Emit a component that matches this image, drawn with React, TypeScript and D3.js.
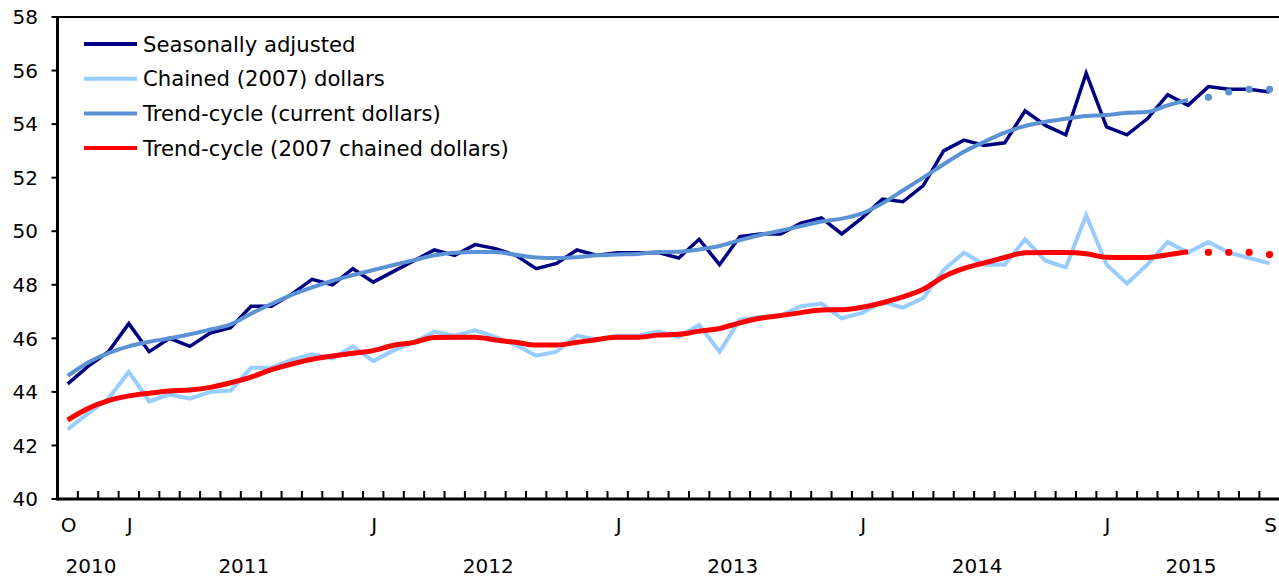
import React from "react";
import * as d3 from "d3";

// monthly, Oct 2010 .. Sep 2015
const months = d3.timeMonth.range(new Date(2010, 9, 1), new Date(2015, 9, 1));

const seasonallyAdjusted = [
  44.3, 44.95, 45.5, 46.55, 45.5, 46.0, 45.7, 46.2, 46.4, 47.2,
  47.2, 47.65, 48.2, 48.0, 48.6, 48.1, 48.5, 48.9, 49.3, 49.1,
  49.5, 49.35, 49.1, 48.6, 48.8, 49.3, 49.1, 49.2, 49.2, 49.2,
  49.0, 49.7, 48.75, 49.8, 49.9, 49.9, 50.3, 50.5, 49.9, 50.5,
  51.2, 51.1, 51.7, 53.0, 53.4, 53.2, 53.3, 54.5, 53.95, 53.6,
  55.9, 53.9, 53.6, 54.2, 55.1, 54.7, 55.4, 55.3, 55.3, 55.2,
];

const chained2007 = [
  42.6, 43.2, 43.75, 44.75, 43.65, 43.9, 43.75, 44.0, 44.05, 44.9,
  44.9, 45.2, 45.4, 45.25, 45.7, 45.15, 45.55, 45.85, 46.25, 46.1,
  46.3, 46.05, 45.75, 45.35, 45.5, 46.1, 45.95, 46.1, 46.1, 46.25,
  46.05, 46.5, 45.5, 46.7, 46.8, 46.85, 47.2, 47.3, 46.75, 46.95,
  47.35, 47.15, 47.5, 48.55, 49.2, 48.75, 48.75, 49.7, 48.9, 48.65,
  50.6, 48.75, 48.05, 48.75, 49.6, 49.2, 49.6, 49.2, 49.0, 48.8,
];

const trendCurrent = [
  44.6, 45.1, 45.45, 45.7, 45.87, 46.0, 46.15, 46.33, 46.52, 46.92,
  47.28, 47.62, 47.9, 48.15, 48.36, 48.55, 48.74, 48.92, 49.1, 49.2,
  49.22, 49.22, 49.12, 49.02, 49.0, 49.03, 49.1, 49.13, 49.15, 49.22,
  49.23, 49.32, 49.45, 49.67, 49.86, 50.02, 50.19, 50.36, 50.47, 50.67,
  51.04, 51.52, 52.0, 52.5, 52.97, 53.34, 53.68, 53.93, 54.09, 54.2,
  54.3, 54.34, 54.42, 54.45, 54.7, 54.9, 55.0, 55.2, 55.3, 55.3,
];

const trendChained = [
  42.95, 43.38, 43.67, 43.85, 43.95, 44.03, 44.07, 44.17, 44.34, 44.55,
  44.83, 45.04, 45.22, 45.34, 45.44, 45.54, 45.74, 45.85, 46.03, 46.04,
  46.04, 45.94, 45.85, 45.75, 45.75, 45.85, 45.96, 46.04, 46.04, 46.12,
  46.15, 46.27, 46.37, 46.58, 46.75, 46.85, 46.96, 47.06, 47.07, 47.16,
  47.33, 47.55, 47.83, 48.3, 48.61, 48.82, 49.02, 49.2, 49.21, 49.21,
  49.16, 49.03, 49.02, 49.02, 49.12, 49.23, 49.21, 49.21, 49.21, 49.13,
];

// last month with a final trend estimate; later months are drawn as dots
const lastTrendIndex = 55;

const yTicks = [40, 42, 44, 46, 48, 50, 52, 54, 56, 58];
const monthLabels = [
  { index: 0, label: "O" },
  { index: 3, label: "J" },
  { index: 15, label: "J" },
  { index: 27, label: "J" },
  { index: 39, label: "J" },
  { index: 51, label: "J" },
  { index: 59, label: "S" },
];
const yearLabels = [
  { year: "2010", from: 0, to: 2 },
  { year: "2011", from: 3, to: 14 },
  { year: "2012", from: 15, to: 26 },
  { year: "2013", from: 27, to: 38 },
  { year: "2014", from: 39, to: 50 },
  { year: "2015", from: 51, to: 59 },
];

const series = [
  { name: "Seasonally adjusted", values: seasonallyAdjusted, color: "#000080", width: 3.5, trend: false },
  { name: "Chained (2007) dollars", values: chained2007, color: "#99ccff", width: 4, trend: false },
  { name: "Trend-cycle (current dollars)", values: trendCurrent, color: "#5b92d6", width: 4, trend: true },
  { name: "Trend-cycle (2007 chained dollars)", values: trendChained, color: "#ff0000", width: 5, trend: true },
];

const W = 1279;
const H = 578;
const font = "'DejaVu Sans', Verdana, sans-serif";

export default function App() {
  const x = d3
    .scaleBand<number>()
    .domain(months.map((_, i) => i))
    .range([57.5, 1279.7])
    .paddingInner(0);
  const cx = (i: number) => (x(i) as number) + x.bandwidth() / 2;
  const y = d3.scaleLinear().domain([40, 58]).range([499, 17]);

  const line = (trend: boolean) =>
    d3
      .line<number>()
      .x((_, i) => cx(i))
      .y((d) => y(d))
      .curve(trend ? d3.curveMonotoneX : d3.curveLinear);

  const [x0, x1] = x.range();

  return (
    <svg width={W} height={H} style={{ position: "absolute", left: 0, top: 0, background: "#fff" }}>
      {/* lines */}
      {series.map((s) => {
        const solid = s.trend ? s.values.slice(0, lastTrendIndex + 1) : s.values;
        return (
          <g key={s.name}>
            <path d={line(s.trend)(solid) || ""} fill="none" stroke={s.color} strokeWidth={s.width} strokeLinejoin="miter" />
            {s.trend &&
              s.values.slice(lastTrendIndex + 1).map((v, k) => (
                <circle key={k} cx={cx(lastTrendIndex + 1 + k)} cy={y(v)} r={3.6} fill={s.color} />
              ))}
          </g>
        );
      })}

      {/* frame */}
      <line x1={x0} x2={W} y1={y(58)} y2={y(58)} stroke="#000" strokeWidth={2} />
      <line x1={x0} x2={x0} y1={y(58) - 1} y2={y(40) + 1.5} stroke="#000" strokeWidth={3} />
      <line x1={x0} x2={W} y1={y(40)} y2={y(40)} stroke="#000" strokeWidth={3} />

      {/* y axis */}
      {yTicks.map((t) => (
        <g key={t}>
          <line x1={x0 - 6} x2={x0} y1={y(t)} y2={y(t)} stroke="#000" strokeWidth={2} />
          <text x={38} y={y(t)} dy="0.36em" textAnchor="end" fontFamily={font} fontSize={20} fill="#000">
            {t}
          </text>
        </g>
      ))}

      {/* x ticks on month boundaries */}
      {months.slice(1).map((_, k) => {
        const bx = x(k + 1) as number;
        return <line key={k} x1={bx} x2={bx} y1={y(40)} y2={y(40) - 8} stroke="#000" strokeWidth={2} />;
      })}
      {x1 < W && <line x1={x1} x2={x1} y1={y(40)} y2={y(40) - 8} stroke="#000" strokeWidth={2} />}

      {monthLabels.map((m) => (
        <text key={m.index} x={cx(m.index) + 1} y={525} dy="0.36em" textAnchor="middle" fontFamily={font} fontSize={20} fill="#000">
          {m.label}
        </text>
      ))}
      {yearLabels.map((yl) => (
        <text
          key={yl.year}
          x={(cx(yl.from) + cx(yl.to)) / 2 + 3}
          y={566}
          dy="0.36em"
          textAnchor="middle"
          fontFamily={font}
          fontSize={20}
          fill="#000"
        >
          {yl.year}
        </text>
      ))}

      {/* legend */}
      {series.map((s, i) => {
        const ly = 44 + i * 34.7;
        return (
          <g key={s.name}>
            <line x1={84} x2={137} y1={ly} y2={ly} stroke={s.color} strokeWidth={4} />
            <text x={143} y={ly} dy="0.36em" fontFamily={font} fontSize={21.2} fill="#000">
              {s.name}
            </text>
          </g>
        );
      })}
    </svg>
  );
}
